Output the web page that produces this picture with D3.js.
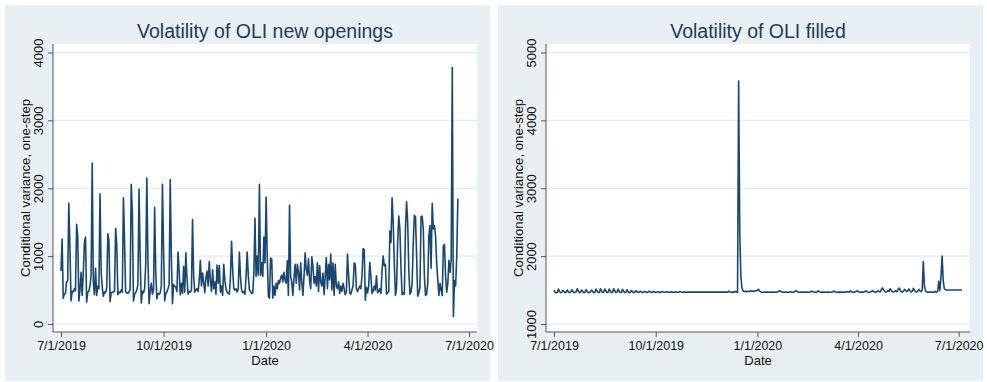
<!DOCTYPE html>
<html>
<head>
<meta charset="utf-8">
<script src="https://cdn.jsdelivr.net/npm/d3@7"></script>
<style>
  body { margin: 0; background: #ffffff; }
  svg { display: block; }
  text { font-family: "Liberation Sans", Arial, sans-serif; }
</style>
</head>
<body>
<svg id="chart" width="987" height="382"></svg>
<script>
// Daily series start on this date; one value per day.
const seriesStart = "2019-07-01";

// Shared date axis
const tickDates = ["2019-07-01", "2019-10-01", "2020-01-01", "2020-04-01", "2020-07-01"];
const tickLabels = ["7/1/2019", "10/1/2019", "1/1/2020", "4/1/2020", "7/1/2020"];

// Value axis ticks per panel
const openingsTicks = [0, 1000, 2000, 3000, 4000];
const filledTicks = [1000, 2000, 3000, 4000, 5000];

// Conditional variance (one-step) of OLI new openings, one row per week
const openingsVariance = [
  780, 1250, 380, 440, 450, 620, 640,
  1780, 1150, 340, 480, 470, 520, 490,
  1470, 1300, 340, 500, 760, 420, 750,
  1200, 1280, 320, 470, 480, 560, 720,
  2370, 620, 430, 820, 420, 560, 520,
  1920, 780, 540, 410, 470, 460, 530,
  1330, 1230, 330, 460, 470, 470, 480,
  1410, 1180, 430, 470, 460, 500, 470,
  1860, 1220, 470, 460, 450, 470, 510,
  2060, 1650, 340, 440, 460, 500, 580,
  1990, 1000, 310, 480, 460, 520, 890,
  2150, 920, 300, 480, 600, 440, 500,
  1720, 760, 370, 450, 440, 460, 560,
  2060, 1100, 340, 450, 470, 520, 580,
  2130, 980, 300, 580, 560, 540, 480,
  1060, 780, 430, 600, 450, 850, 470,
  1050, 680, 440, 480, 470, 500, 1540,
  700, 470, 500, 520, 480, 640, 940,
  560, 750, 610, 460, 680, 780, 560,
  920, 640, 480, 800, 520, 620, 440,
  870, 600, 860, 470, 560, 420, 880,
  640, 520, 470, 450, 440, 700, 1220,
  800, 520, 500, 520, 470, 520, 1060,
  700, 500, 460, 480, 440, 700, 1060,
  720, 500, 480, 450, 460, 750, 1560,
  700, 1000, 720, 2060, 720, 900, 700,
  1280, 900, 1870, 1000, 410, 380, 970,
  960, 380, 560, 420, 600, 520, 640,
  600, 680, 720, 620, 760, 650, 600,
  930, 420, 1750, 700, 620, 420, 680,
  880, 600, 880, 760, 500, 900, 620,
  420, 700, 1050, 800, 720, 960, 640,
  520, 990, 850, 600, 700, 560, 900,
  480, 860, 620, 560, 750, 430, 700,
  980, 520, 880, 650, 1030, 500, 900,
  420, 880, 560, 520, 620, 450, 560,
  480, 600, 520, 430, 480, 1030, 720,
  460, 440, 500, 560, 900, 880, 520,
  480, 520, 560, 520, 700, 1110, 1100,
  350, 540, 460, 560, 910, 700, 450,
  480, 560, 500, 710, 460, 480, 520,
  450, 780, 1000, 860, 880, 440, 460,
  480, 1370, 1200, 1860, 1500, 900, 420,
  520, 1200, 1590, 1400, 820, 430, 460,
  440, 1400, 1800, 1500, 800, 440, 470,
  600, 1200, 1600, 1580, 1000, 410, 460,
  540, 1580, 1590, 1400, 700, 420, 440,
  600, 1300, 1450, 820, 1780, 1400, 1450,
  1300, 900, 650, 420, 600, 500, 420,
  1150, 1170, 700, 470, 600, 940, 760,
  940, 3780, 110, 640, 560, 1000, 1850
];

// Conditional variance (one-step) of OLI filled, one row per week
const filledVariance = [
  1500, 1470, 1460, 1465, 1515, 1480, 1462,
  1470, 1495, 1478, 1462, 1468, 1500, 1475,
  1462, 1470, 1505, 1480, 1463, 1468, 1475,
  1520, 1485, 1462, 1468, 1500, 1478, 1462,
  1468, 1505, 1480, 1462, 1466, 1472, 1500,
  1478, 1462, 1468, 1515, 1485, 1462, 1468,
  1520, 1485, 1462, 1470, 1515, 1483, 1462,
  1470, 1515, 1483, 1462, 1470, 1520, 1485,
  1462, 1470, 1515, 1482, 1462, 1470, 1510,
  1480, 1462, 1470, 1505, 1478, 1462, 1468,
  1495, 1475, 1462, 1468, 1490, 1475, 1465,
  1470, 1485, 1472, 1465, 1470, 1480, 1470,
  1465, 1470, 1485, 1472, 1466, 1470, 1478,
  1470, 1466, 1470, 1475, 1470, 1466, 1470,
  1480, 1472, 1467, 1470, 1475, 1470, 1468,
  1470, 1474, 1470, 1468, 1470, 1472, 1470,
  1468, 1470, 1480, 1472, 1468, 1470, 1472,
  1470, 1468, 1470, 1472, 1470, 1470, 1470,
  1472, 1470, 1470, 1471, 1470, 1470, 1472,
  1470, 1470, 1471, 1470, 1470, 1470, 1471,
  1470, 1470, 1470, 1471, 1470, 1470, 1470,
  1470, 1471, 1470, 1470, 1470, 1470, 1470,
  1470, 1470, 1470, 1470, 1485, 1472, 1468,
  1470, 1472, 1470, 1482, 1470, 1468, 4580,
  2350, 1700, 1530, 1490, 1478, 1482, 1475,
  1485, 1478, 1480, 1490, 1482, 1485, 1480,
  1485, 1490, 1495, 1510, 1485, 1475, 1468,
  1465, 1470, 1468, 1470, 1472, 1468, 1470,
  1468, 1470, 1472, 1470, 1468, 1470, 1472,
  1478, 1492, 1480, 1472, 1470, 1468, 1470,
  1472, 1470, 1468, 1470, 1475, 1470, 1468,
  1470, 1480, 1490, 1478, 1470, 1468, 1470,
  1472, 1470, 1468, 1470, 1472, 1470, 1468,
  1470, 1475, 1485, 1475, 1470, 1468, 1470,
  1472, 1488, 1476, 1470, 1468, 1470, 1472,
  1470, 1468, 1470, 1472, 1470, 1468, 1470,
  1475, 1486, 1475, 1470, 1468, 1470, 1472,
  1470, 1468, 1470, 1472, 1470, 1468, 1478,
  1472, 1470, 1488, 1476, 1470, 1468, 1470,
  1480, 1490, 1478, 1470, 1468, 1470, 1472,
  1470, 1475, 1488, 1476, 1470, 1468, 1472,
  1478, 1492, 1480, 1470, 1468, 1475, 1490,
  1480, 1472, 1505, 1532, 1505, 1480, 1470,
  1475, 1495, 1480, 1520, 1500, 1475, 1470,
  1478, 1490, 1475, 1500, 1530, 1505, 1478,
  1470, 1480, 1510, 1495, 1478, 1490, 1515,
  1492, 1470, 1480, 1525, 1500, 1475, 1470,
  1485, 1510, 1490, 1475, 1500, 1920, 1560,
  1490, 1475, 1468, 1470, 1472, 1475, 1468,
  1470, 1470, 1480, 1470, 1480, 1630, 1495,
  1700, 2000, 1640, 1520, 1505, 1500, 1500,
  1500, 1500, 1500, 1500, 1500, 1500, 1500,
  1500, 1500, 1500, 1500, 1500, 1500
];

const parseDay = d3.utcParse("%Y-%m-%d");
const start = parseDay(seriesStart);
const ticks = tickDates.map(parseDay);

const svg = d3.select("#chart");

const panelBg = "#e9f0f3";
const gridColor = "#e3ebee";
const axisColor = "#555555";
const lineColor = "#1a476f";
const titleColor = "#1f3a5a";

function drawPanel(left, title, values, yTicks) {
  const panelW = 485, panelTop = 5, panelBottom = 381;
  const plotL = left + 48, plotR = left + 472, plotT = 44, plotB = 332;

  const g = svg.append("g");

  g.append("rect")
    .attr("x", left).attr("y", panelTop)
    .attr("width", panelW).attr("height", panelBottom - panelTop)
    .attr("fill", panelBg);

  g.append("rect")
    .attr("x", plotL).attr("y", plotT)
    .attr("width", plotR - plotL).attr("height", plotB - plotT)
    .attr("fill", "#ffffff");

  const points = values.map((v, i) => ({ date: d3.utcDay.offset(start, i), value: v }));
  const xExtent = d3.extent(points.map(p => p.date).concat(ticks));

  const x = d3.scaleUtc().domain(xExtent).range([plotL + 8, plotR - 8]);
  const y = d3.scaleLinear().domain(d3.extent(yTicks)).range([plotB - 8, plotT + 8.5]);

  // horizontal grid
  g.append("g").selectAll("line").data(yTicks).join("line")
    .attr("x1", plotL).attr("x2", plotR)
    .attr("y1", d => y(d)).attr("y2", d => y(d))
    .attr("stroke", gridColor).attr("stroke-width", 1.2);

  // y axis
  const yAxis = g.append("g").attr("transform", `translate(${plotL},0)`)
    .call(d3.axisLeft(y).tickValues(yTicks).tickSize(5).tickPadding(0).tickFormat(d3.format("d")));
  yAxis.select(".domain").attr("d", `M0,${plotT}V${plotB}`).attr("stroke", axisColor);
  yAxis.selectAll(".tick line").attr("stroke", axisColor);
  yAxis.selectAll(".tick text")
    .attr("x", null).attr("dy", null)
    .attr("transform", "translate(-10,0) rotate(-90)")
    .attr("text-anchor", "middle")
    .attr("font-size", 13)
    .attr("font-family", "'Liberation Sans', Arial, sans-serif")
    .attr("fill", "#111");

  // x axis
  const xAxis = g.append("g").attr("transform", `translate(0,${plotB})`)
    .call(d3.axisBottom(x).tickValues(ticks).tickSize(5).tickPadding(4)
      .tickFormat((d, i) => tickLabels[i]));
  xAxis.select(".domain").attr("d", `M${plotL},0H${plotR}`).attr("stroke", axisColor);
  xAxis.selectAll(".tick line").attr("stroke", axisColor);
  xAxis.selectAll(".tick text")
    .attr("font-size", 12.5)
    .attr("font-family", "'Liberation Sans', Arial, sans-serif")
    .attr("fill", "#111");

  // series line
  const line = d3.line().x(d => x(d.date)).y(d => y(d.value));
  g.append("path").datum(points)
    .attr("d", line)
    .attr("fill", "none")
    .attr("stroke", lineColor)
    .attr("stroke-width", 1.6)
    .attr("stroke-linejoin", "round");

  // titles
  const cx = (plotL + plotR) / 2;
  g.append("text")
    .attr("x", cx).attr("y", 38)
    .attr("text-anchor", "middle")
    .attr("font-size", 19.5)
    .attr("fill", titleColor)
    .text(title);

  g.append("text")
    .attr("x", cx).attr("y", 365)
    .attr("text-anchor", "middle")
    .attr("font-size", 13)
    .attr("fill", "#111")
    .text("Date");

  g.append("text")
    .attr("transform", `translate(${left + 24.5},${(plotT + plotB) / 2}) rotate(-90)`)
    .attr("text-anchor", "middle")
    .attr("font-size", 13.2)
    .attr("fill", "#111")
    .text("Conditional variance, one-step");
}

drawPanel(5, "Volatility of OLI new openings", openingsVariance, openingsTicks);
drawPanel(498, "Volatility of OLI filled", filledVariance, filledTicks);
</script>
</body>
</html>
